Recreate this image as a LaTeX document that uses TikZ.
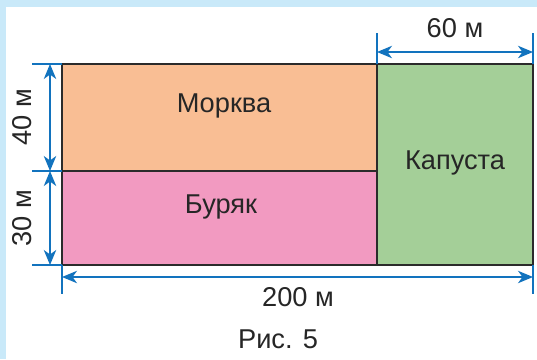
\documentclass[tikz,border=0pt]{standalone}
\usepackage{fontspec}
\setmainfont{Liberation Sans}
\usetikzlibrary{arrows.meta}
\definecolor{bgblue}{HTML}{C9E9F9}
\definecolor{dimblue}{HTML}{1273BE}
\definecolor{carrot}{HTML}{F9BE94}
\definecolor{beet}{HTML}{F29AC1}
\definecolor{cabbage}{HTML}{A4CF98}
\definecolor{edge}{HTML}{2B2B2B}
\begin{document}
\begin{tikzpicture}[x = 0.02cm, y = -0.02cm,
    field/.style = {draw = edge, line width = 1.1pt},
    extline/.style = {draw = dimblue, line width = 1.1pt},
    dimline/.style = {extline, {Stealth[length = 8.5pt, width = 7pt, inset = 2.5pt]}-{Stealth[length = 8.5pt, width = 7pt, inset = 2.5pt]}},
    lbl/.style = {font = \fontsize{15.5}{18}\selectfont, text = black!85, inner sep = 0pt}]
        \fill[bgblue] (0, 0) rectangle (537, 359);
        \fill[white] (6, 7) rectangle (537, 359);

        % corners of the plot
        \coordinate (nw) at (62, 64);
        \coordinate (mw) at (62, 171);
        \coordinate (sw) at (62, 265);
        \coordinate (nm) at (377, 64);
        \coordinate (ne) at (533, 64);
        \coordinate (se) at (533, 265);

        \filldraw[field, fill = carrot] (nw) rectangle (377, 171);
        \filldraw[field, fill = beet] (mw) rectangle (377, 265);
        \filldraw[field, fill = cabbage] (nm) rectangle (se);

        \node[lbl] (carrotlbl) at (224, 106) {Морква};
        \node[lbl] (beetlbl) at (221, 207) {Буряк};
        \node[lbl] (cabbagelbl) at (455, 163) {Капуста};

        % extension lines
        \foreach \p in {nw, mw, sw}
          \draw[extline] (\p) -- ++(-30, 0);
        \foreach \p in {nm, ne}
          \draw[extline] (\p) -- ++(0, -31);
        \foreach \p in {sw, se}
          \draw[extline] (\p) -- ++(0, 29);

        % dimension arrows
        \draw[dimline] ([xshift = -12*0.02cm] nw) -- ([xshift = -12*0.02cm] mw);
        \draw[dimline] ([xshift = -12*0.02cm] mw) -- ([xshift = -12*0.02cm] sw);
        \draw[dimline] ([yshift = 12*0.02cm] nm) -- ([yshift = 12*0.02cm] ne);
        \draw[dimline] ([yshift = -12*0.02cm] sw) -- ([yshift = -12*0.02cm] se);

        \node[lbl, rotate = 90] (dimforty) at (22, 117) {40 м};
        \node[lbl, rotate = 90] (dimthirty) at (22, 218) {30 м};
        \node[lbl] (dimsixty) at (455, 28) {60 м};
        \node[lbl] (dimtwohundred) at (298, 297) {200 м};
        \node[lbl] (caption) at (278, 339) {Рис. 5};
      \end{tikzpicture}
\end{document}
